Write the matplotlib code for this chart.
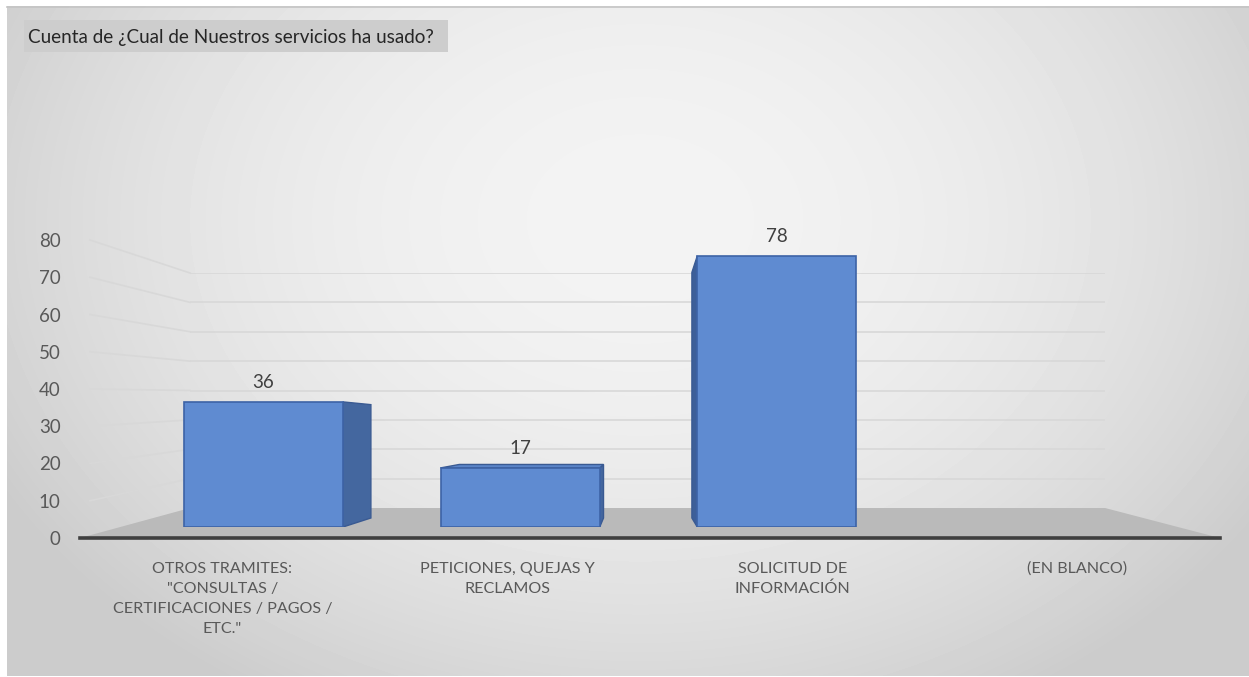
import numpy as np
import matplotlib.pyplot as plt
from matplotlib.patches import Polygon, Rectangle

# chart data
title = 'Cuenta de ¿Cual de Nuestros servicios ha usado?'
categories = ['OTROS TRAMITES:\n"CONSULTAS /\nCERTIFICACIONES / PAGOS /\nETC."',
              'PETICIONES, QUEJAS Y\nRECLAMOS',
              'SOLICITUD DE\nINFORMACIÓN',
              '(EN BLANCO)']
counts = [36, 17, 78, None]   # "(en blanco)" has no bar
yticks = [0, 10, 20, 30, 40, 50, 60, 70, 80]

plt.rcParams['font.family'] = 'Lato'

W, H = 1249, 677
fig = plt.figure(figsize=(W / 100, H / 100), dpi=100, facecolor='white')


def px_axes(x0, x1, ytop, ybot):
    return fig.add_axes([x0 / W, 1 - ybot / H, (x1 - x0) / W, (ybot - ytop) / H])


# background with soft radial shading
bg = fig.add_axes([0, 0, 1, 1])
bg.set_xlim(0, W)
bg.set_ylim(H, 0)
bg.axis('off')
yy, xx = np.mgrid[6:676, 7:W]
r2 = ((xx - 640) / 660.0) ** 2 + ((yy - 220) / 500.0) ** 2
shade = np.clip(243 - 32 * r2, 204, 243) / 255.0
bg.imshow(shade, cmap='gray', vmin=0, vmax=1, extent=(7, W, 676, 6),
          aspect='auto', interpolation='bilinear')
bg.plot([7, W], [6.5, 6.5], color='#c4c4c4', lw=1.2)

# title box
bg.add_patch(Rectangle((24, 20), 424, 32, facecolor='#cdcdcd', edgecolor='none'))
bg.text(28, 37, title, va='center', ha='left', fontsize=13.6, color='#262626')

# back wall (gridlines)
wall = px_axes(190, 1105, 273, 508)
wall.set_xlim(-0.5, 3.5)
wall.set_ylim(0, 80)
wall.axis('off')
wall.hlines(yticks[1:], -0.5, 3.5, color='#d8d8d8', lw=1.2)

# front plane (axis, ticks, category labels)
front = px_axes(80, 1220, 240, 538)
front.set_xlim(-0.5, 3.5)
front.set_ylim(0, 80)
front.patch.set_visible(False)
for s in front.spines.values():
    s.set_visible(False)
front.set_yticks(yticks)
front.set_yticklabels([str(t) for t in yticks], fontsize=13.5, color='#595959')
front.set_xticks(range(len(categories)))
front.set_xticklabels(categories, fontsize=11.6, color='#595959', linespacing=1.55)
front.tick_params(axis='y', length=0, pad=14)
front.tick_params(axis='x', length=0, pad=17)


def to_bg(ax, x, y):
    return bg.transData.inverted().transform(ax.transData.transform((x, y)))


# floor and side-wall gridlines
floor = [to_bg(front, -0.5, 0), to_bg(wall, -0.5, 0), to_bg(wall, 3.5, 0), to_bg(front, 3.5, 0)]
bg.add_patch(Polygon(floor, closed=True, facecolor='#bababa', edgecolor='none', zorder=3))
for v in yticks[1:]:
    a = to_bg(front, -0.5, v)
    b = to_bg(wall, -0.5, v)
    bg.plot([a[0] + 10, b[0]], [a[1], b[1]], color='#d8d8d8', lw=1.2, zorder=2)
front.axhline(0, color='#3f3f3f', lw=2.6, clip_on=False)

# bars, standing mid-depth on the floor
bars = px_axes(135, 1162, 249, 527)
bars.set_xlim(-0.5, 3.5)
bars.set_ylim(0, 80)
bars.axis('off')

idx = [i for i, c in enumerate(counts) if c is not None]
vals = [counts[i] for i in idx]
width = 0.62
bars.bar(idx, vals, width=width, color='#5f8bd1', edgecolor='#3d63a6', lw=1.2, zorder=3)

# simple perspective for the side/top faces
vx, vy, k = 1.467, 27.6, 0.094
for x, h in zip(idx, vals):
    xl, xr = x - width / 2, x + width / 2
    if xr < vx:
        bx = xr + k * (vx - xr)
        face = [(xr, 0), (xr, h), (bx, h + k * (vy - h)), (bx, k * vy)]
        bars.add_patch(Polygon(face, facecolor='#44679f', edgecolor='#3a5a92', lw=1, zorder=2))
    if xl > vx:
        bx = xl + k * (vx - xl)
        face = [(xl, 0), (xl, h), (bx, h + k * (vy - h)), (bx, k * vy)]
        bars.add_patch(Polygon(face, facecolor='#3d5f99', edgecolor='#3a5a92', lw=1, zorder=2))
    if h < vy:
        tl = xl + k * (vx - xl)
        tr = xr + k * (vx - xr)
        ty = h + k * (vy - h)
        bars.add_patch(Polygon([(xl, h), (xr, h), (tr, ty), (tl, ty)],
                               facecolor='#5a84c8', edgecolor='#3a5a92', lw=1, zorder=2))
    bars.annotate(str(h), (x, h), xytext=(0, 8), textcoords='offset points',
                  ha='center', va='bottom', fontsize=13.5, color='#404040')

fig.savefig('out.png', dpi=100, facecolor='white')
